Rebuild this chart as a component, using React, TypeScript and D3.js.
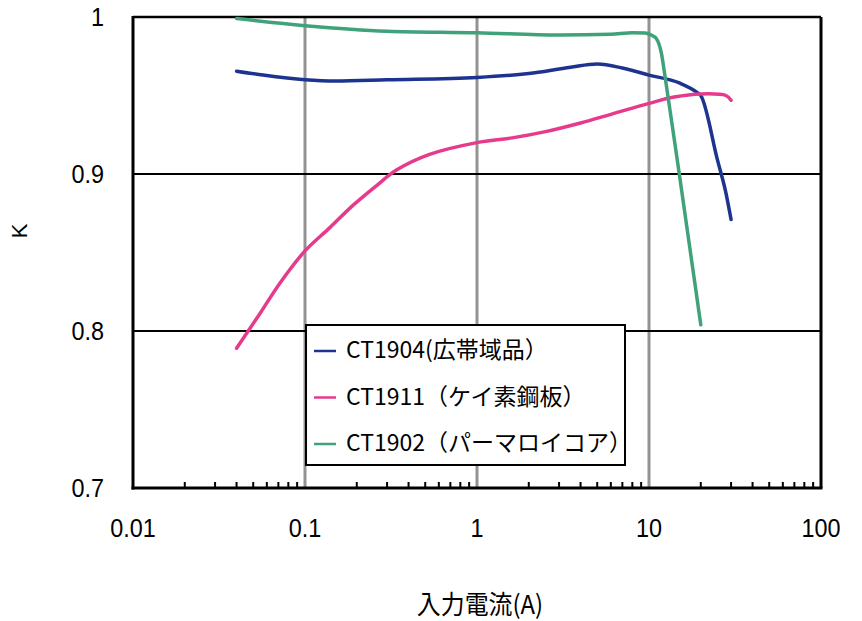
import React from "react";
import * as d3 from "d3";

const xTickValues = [0.01, 0.1, 1, 10, 100];
const xTickLabels = ["0.01", "0.1", "1", "10", "100"];
const yTickValues = [0.7, 0.8, 0.9, 1];
const yTickLabels = ["0.7", "0.8", "0.9", "1"];

const seriesNames = ["CT1904(広帯域品）", "CT1911（ケイ素鋼板）", "CT1902（パーマロイコア）"];
const seriesColors = ["#1c3390", "#e63b8c", "#3fa27a"];

const ct1904X = [0.04, 0.057, 0.1, 0.15, 0.3, 1, 2, 3.5, 5, 7, 10, 15, 19, 20, 25, 28, 30];
const ct1904Y = [0.9655, 0.963, 0.96, 0.9592, 0.96, 0.9615, 0.964, 0.968, 0.97, 0.9675, 0.963, 0.958, 0.952, 0.95, 0.909, 0.888, 0.871];

const ct1911X = [0.04, 0.055, 0.0716, 0.1, 0.14, 0.19, 0.26, 0.34, 0.53, 1, 1.6, 2.5, 4, 6, 10, 14, 20, 28, 30];
const ct1911Y = [0.789, 0.8115, 0.8306, 0.851, 0.866, 0.88, 0.8925, 0.9025, 0.9125, 0.92, 0.923, 0.927, 0.9325, 0.938, 0.945, 0.949, 0.951, 0.95, 0.947];

const ct1902X = [0.04, 0.1, 0.3, 1, 3, 6, 8, 9.5, 10.5, 11, 11.8, 12.4, 15, 20];
const ct1902Y = [0.999, 0.9945, 0.991, 0.99, 0.9885, 0.989, 0.99, 0.9898, 0.988, 0.9865, 0.977, 0.962, 0.9, 0.804];

const minorTicks: number[] = [];
[0.01, 0.1, 1, 10].forEach((d) => {
  for (let k = 2; k <= 9; k++) minorTicks.push(d * k);
});

export default function App() {
  const W = 862, H = 621;
  const left = 133, right = 821, top = 17, bottom = 488;
  const x = d3.scaleLog().domain([0.01, 100]).range([left, right]);
  const y = d3.scaleLinear().domain([0.7, 1]).range([bottom, top]);

  const series = [
    { xs: ct1904X, ys: ct1904Y, curve: d3.curveMonotoneX },
    { xs: ct1911X, ys: ct1911Y, curve: d3.curveCatmullRom.alpha(0.5) },
    { xs: ct1902X, ys: ct1902Y, curve: d3.curveMonotoneX },
  ];

  const font = "'Liberation Sans', Arial, sans-serif";
  const cjk = "'Noto Sans CJK JP', sans-serif";

  return (
    <svg width={W} height={H} style={{ position: "absolute", left: 0, top: 0, background: "#fff" }}>
      <rect x={0} y={0} width={W} height={H} fill="#fff" />
      {xTickValues.slice(1, -1).map((v) => (
        <line key={"vg" + v} x1={x(v)} x2={x(v)} y1={top} y2={bottom} stroke="#939393" strokeWidth={3} />
      ))}
      {yTickValues.slice(1, -1).map((v) => (
        <line key={"hg" + v} x1={left} x2={right} y1={y(v)} y2={y(v)} stroke="#000" strokeWidth={2.2} />
      ))}
      {minorTicks.map((v) => (
        <line key={"mt" + v} x1={x(v)} x2={x(v)} y1={bottom} y2={bottom - 6} stroke="#000" strokeWidth={2} />
      ))}
      <line x1={left} x2={right} y1={top} y2={top} stroke="#000" strokeWidth={2.5} />
      <line x1={right} x2={right} y1={top} y2={bottom} stroke="#000" strokeWidth={3} />
      <line x1={left} x2={left} y1={top - 1} y2={bottom + 1.5} stroke="#000" strokeWidth={3} />
      <line x1={left - 1.5} x2={right + 1.5} y1={bottom} y2={bottom} stroke="#000" strokeWidth={3} />

      {series.map((s, i) => {
        const line = d3
          .line<[number, number]>()
          .x((d) => x(d[0]))
          .y((d) => y(d[1]))
          .curve(s.curve);
        return (
          <path
            key={"s" + i}
            d={line(s.xs.map((v, j) => [v, s.ys[j]] as [number, number])) || ""}
            fill="none"
            stroke={seriesColors[i]}
            strokeWidth={3.5}
            strokeLinecap="round"
            strokeLinejoin="round"
          />
        );
      })}

      <rect x={306} y={325} width={319} height={140} fill="#fff" stroke="#000" strokeWidth={2} />
      {seriesNames.map((n, i) => {
        const ry = 351 + i * 46.5;
        return (
          <g key={"lg" + i}>
            <line x1={314} x2={336} y1={ry} y2={ry} stroke={seriesColors[i]} strokeWidth={2.5} />
            <text x={346} y={ry + 1} dominantBaseline="middle" fontFamily={cjk} fontSize={23} fill="#000">
              {n}
            </text>
          </g>
        );
      })}

      {yTickValues.map((v, i) => (
        <text key={"yl" + v} transform={`translate(104,${y(v) + 2}) scale(0.9,1)`} textAnchor="end" dominantBaseline="middle" fontFamily={font} fontSize={26} fill="#000">
          {yTickLabels[i]}
        </text>
      ))}
      {xTickValues.map((v, i) => (
        <text key={"xl" + v} transform={`translate(${x(v)},530) scale(0.9,1)`} textAnchor="middle" dominantBaseline="middle" fontFamily={font} fontSize={26} fill="#000">
          {xTickLabels[i]}
        </text>
      ))}
      <text x={21} y={231} transform="rotate(-90 21 231)" textAnchor="middle" dominantBaseline="middle" fontFamily={font} fontSize={22} fill="#000">
        K
      </text>
      <text transform="translate(480,607) scale(0.92,1)" textAnchor="middle" dominantBaseline="middle" fontFamily={cjk} fontSize={26} fill="#000">
        入力電流(A)
      </text>
    </svg>
  );
}
